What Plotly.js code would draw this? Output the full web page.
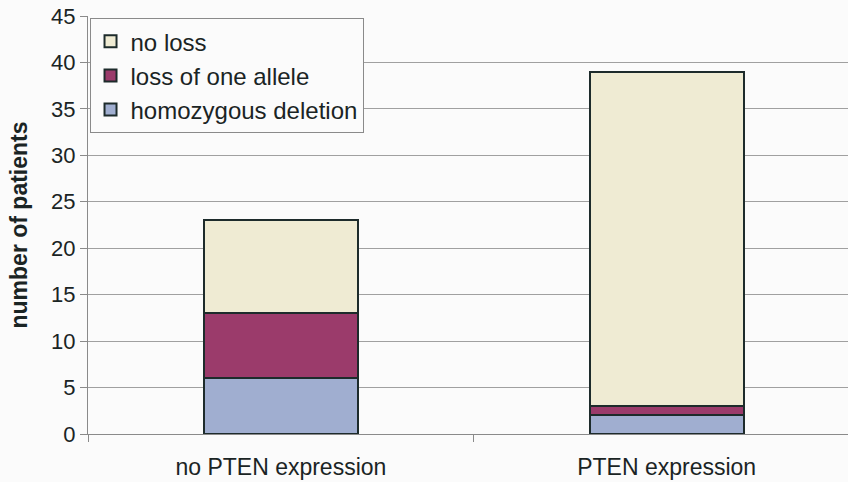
<!DOCTYPE html>
<html>
<head>
<meta charset="utf-8">
<script src="https://cdn.plot.ly/plotly-3.0.1.min.js"></script>
<style>
  html, body { margin: 0; padding: 0; background: #fbfbfb; }
  #chart { width: 848px; height: 482px; }
</style>
</head>
<body>
<div id="chart"></div>
<script>
// PTEN expression groups and patient counts per deletion status
const groups = ["no PTEN expression", "PTEN expression"];
const homozygousDeletion = [6, 2];
const lossOfOneAllele = [7, 1];
const noLoss = [10, 36];
const yTicks = [0, 5, 10, 15, 20, 25, 30, 35, 40, 45];

const edge = { color: "#1d2b2b", width: 2 };

const traces = [
  { type: "bar", name: "homozygous deletion", x: groups, y: homozygousDeletion,
    marker: { color: "#a0aed0", line: edge }, width: 0.4 },
  { type: "bar", name: "loss of one allele", x: groups, y: lossOfOneAllele,
    marker: { color: "#9b3b6b", line: edge }, width: 0.4 },
  { type: "bar", name: "no loss", x: groups, y: noLoss,
    marker: { color: "#efebd3", line: edge }, width: 0.4 }
];

const layout = {
  width: 848, height: 482,
  barmode: "stack",
  paper_bgcolor: "#fbfbfb",
  plot_bgcolor: "#fbfbfb",
  margin: { l: 88, r: 0, t: 16, b: 48 },
  font: { family: "Liberation Sans, Arial, sans-serif", color: "#1a2424", size: 23 },
  xaxis: {
    range: [-0.5, 1.47],
    showline: true, linecolor: "#8a8a8a", linewidth: 1,
    ticks: "outside", tickson: "boundaries", ticklen: 7, tickcolor: "#8a8a8a",
    tickfont: { size: 23 },
    ticklabelstandoff: 12,
    showgrid: false
  },
  yaxis: {
    range: [0, 45],
    tickvals: yTicks,
    showline: true, linecolor: "#8a8a8a", linewidth: 1,
    ticks: "outside", ticklen: 7, tickcolor: "#8a8a8a",
    gridcolor: "#a0a0a0", gridwidth: 1,
    tickfont: { size: 22 },
    zeroline: false,
    title: { text: "<b>number of patients</b>", font: { size: 23 }, standoff: 17 }
  },
  legend: {
    x: 0.002, y: 0.995, xanchor: "left", yanchor: "top",
    traceorder: "reversed",
    bgcolor: "#fbfbfb", bordercolor: "#8a8a8a", borderwidth: 1,
    font: { size: 24 },
    itemwidth: 30
  },
  showlegend: true
};

Plotly.newPlot("chart", traces, layout, { displayModeBar: false, staticPlot: true });
</script>
</body>
</html>
